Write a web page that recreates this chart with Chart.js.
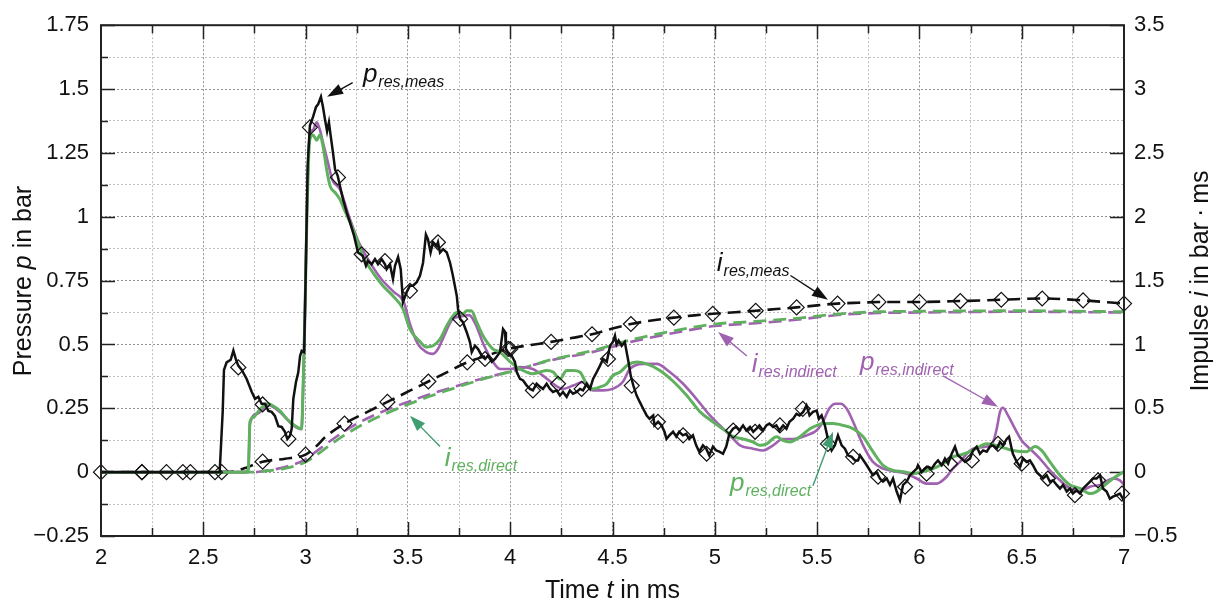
<!DOCTYPE html>
<html>
<head>
<meta charset="utf-8">
<script src="https://cdn.jsdelivr.net/npm/chart.js@4"></script>
<style>
  html, body { margin: 0; padding: 0; background: #fff; }
  #wrap { width: 1217px; height: 603px; position: relative; }
</style>
</head>
<body>
<div id="wrap"><canvas id="myChart"></canvas></div>
<script>
// measured pressure p_res,meas (bar)
const tMeas = [2.0, 2.58, 2.595, 2.601, 2.614, 2.634, 2.647, 2.66, 2.671, 2.688, 2.712, 2.737, 2.753, 2.769, 2.785, 2.802, 2.818, 2.834, 2.85, 2.867, 2.883, 2.899, 2.911, 2.924, 2.932, 2.94, 2.953, 2.964, 2.973, 2.981, 2.993, 3.0, 3.01, 3.021, 3.036, 3.051, 3.061, 3.075, 3.085, 3.095, 3.105, 3.114, 3.123, 3.134, 3.144, 3.157, 3.168, 3.183, 3.201, 3.217, 3.237, 3.256, 3.279, 3.295, 3.305, 3.323, 3.339, 3.354, 3.372, 3.388, 3.396, 3.412, 3.427, 3.437, 3.452, 3.465, 3.476, 3.494, 3.51, 3.525, 3.543, 3.559, 3.574, 3.588, 3.598, 3.611, 3.623, 3.641, 3.647, 3.657, 3.672, 3.69, 3.706, 3.72, 3.739, 3.745, 3.755, 3.769, 3.787, 3.803, 3.812, 3.828, 3.843, 3.861, 3.877, 3.891, 3.91, 3.926, 3.95, 3.965, 3.975, 3.979, 3.989, 4.007, 4.023, 4.032, 4.048, 4.063, 4.081, 4.097, 4.111, 4.129, 4.146, 4.16, 4.178, 4.194, 4.209, 4.227, 4.243, 4.258, 4.276, 4.292, 4.307, 4.325, 4.341, 4.356, 4.374, 4.39, 4.405, 4.423, 4.439, 4.454, 4.472, 4.488, 4.502, 4.512, 4.52, 4.53, 4.545, 4.56, 4.578, 4.589, 4.602, 4.618, 4.633, 4.65, 4.667, 4.681, 4.699, 4.705, 4.723, 4.74, 4.754, 4.764, 4.778, 4.796, 4.812, 4.826, 4.844, 4.86, 4.875, 4.893, 4.909, 4.924, 4.942, 4.958, 4.973, 4.991, 5.007, 5.022, 5.04, 5.056, 5.071, 5.089, 5.105, 5.12, 5.138, 5.154, 5.172, 5.188, 5.204, 5.218, 5.236, 5.252, 5.267, 5.285, 5.301, 5.316, 5.334, 5.35, 5.365, 5.383, 5.399, 5.414, 5.432, 5.448, 5.463, 5.48, 5.498, 5.509, 5.522, 5.538, 5.553, 5.571, 5.587, 5.602, 5.62, 5.636, 5.651, 5.669, 5.685, 5.7, 5.71, 5.74, 5.773, 5.791, 5.807, 5.822, 5.84, 5.856, 5.871, 5.889, 5.905, 5.92, 5.938, 5.954, 5.969, 5.987, 5.993, 6.011, 6.027, 6.042, 6.06, 6.076, 6.091, 6.109, 6.125, 6.14, 6.158, 6.174, 6.188, 6.207, 6.223, 6.247, 6.262, 6.28, 6.296, 6.311, 6.329, 6.345, 6.36, 6.378, 6.394, 6.408, 6.427, 6.438, 6.451, 6.457, 6.476, 6.492, 6.506, 6.524, 6.54, 6.555, 6.573, 6.589, 6.604, 6.622, 6.638, 6.653, 6.671, 6.687, 6.702, 6.72, 6.736, 6.75, 6.768, 6.785, 6.8, 6.818, 6.834, 6.848, 6.866, 6.883, 6.897, 6.915, 6.931, 6.946, 6.964, 6.98, 6.995, 7.0];
const pMeas = [0, 0, 0.24, 0.40, 0.43, 0.44, 0.476, 0.44, 0.417, 0.40, 0.365, 0.314, 0.287, 0.295, 0.268, 0.268, 0.24, 0.236, 0.22, 0.18, 0.177, 0.158, 0.13, 0.143, 0.17, 0.287, 0.353, 0.39, 0.455, 0.475, 0.47, 0.75, 1.2, 1.357, 1.39, 1.43, 1.44, 1.47, 1.43, 1.38, 1.335, 1.37, 1.315, 1.25, 1.185, 1.16, 1.12, 1.068, 1.017, 0.978, 0.925, 0.86, 0.847, 0.808, 0.827, 0.814, 0.834, 0.814, 0.834, 0.814, 0.795, 0.814, 0.756, 0.808, 0.842, 0.795, 0.666, 0.705, 0.73, 0.73, 0.744, 0.769, 0.82, 0.93, 0.912, 0.86, 0.90, 0.886, 0.90, 0.86, 0.873, 0.86, 0.82, 0.769, 0.69, 0.639, 0.60, 0.587, 0.549, 0.51, 0.47, 0.495, 0.482, 0.456, 0.443, 0.456, 0.432, 0.443, 0.47, 0.56, 0.549, 0.482, 0.47, 0.456, 0.432, 0.392, 0.365, 0.359, 0.339, 0.326, 0.32, 0.346, 0.334, 0.326, 0.346, 0.326, 0.314, 0.32, 0.30, 0.314, 0.295, 0.32, 0.307, 0.314, 0.326, 0.32, 0.346, 0.326, 0.365, 0.392, 0.417, 0.443, 0.432, 0.495, 0.51, 0.534, 0.5, 0.515, 0.495, 0.51, 0.432, 0.378, 0.339, 0.30, 0.275, 0.248, 0.222, 0.209, 0.222, 0.183, 0.197, 0.183, 0.158, 0.13, 0.144, 0.158, 0.139, 0.158, 0.144, 0.15, 0.13, 0.144, 0.105, 0.08, 0.105, 0.092, 0.066, 0.10, 0.085, 0.08, 0.072, 0.10, 0.15, 0.17, 0.177, 0.163, 0.183, 0.163, 0.177, 0.158, 0.17, 0.183, 0.163, 0.183, 0.19, 0.177, 0.183, 0.163, 0.183, 0.17, 0.197, 0.209, 0.228, 0.222, 0.236, 0.261, 0.222, 0.236, 0.241, 0.209, 0.222, 0.183, 0.13, 0.085, 0.105, 0.144, 0.105, 0.092, 0.066, 0.06, 0.046, 0.046, 0.066, 0.03, -0.012, 0.0, -0.025, -0.037, -0.025, -0.05, -0.025, -0.076, -0.11, -0.05, -0.037, -0.012, 0.0, 0.014, 0.027, 0.0, 0.014, 0.021, 0.014, 0.033, 0.046, 0.027, 0.053, 0.033, 0.072, 0.10, 0.066, 0.053, 0.04, 0.053, 0.085, 0.10, 0.072, 0.085, 0.08, 0.10, 0.105, 0.092, 0.118, 0.105, 0.13, 0.139, 0.092, 0.072, 0.04, 0.021, 0.053, 0.04, 0.046, 0.027, 0.0, -0.012, -0.025, -0.012, -0.037, -0.032, -0.05, -0.064, -0.05, -0.076, -0.064, -0.084, -0.071, -0.084, -0.064, -0.05, -0.037, -0.025, -0.025, -0.012, -0.064, -0.076, -0.104, -0.096, -0.09, -0.084, -0.104, -0.1];
// diamond markers on p_res,meas
const tMeasMark = [2.2, 2.32, 2.437, 2.557, 2.671, 2.79, 2.916, 3.021, 3.158, 3.274, 3.388, 3.51, 3.647, 3.755, 3.877, 4.0, 4.111, 4.234, 4.349, 4.478, 4.594, 4.722, 4.845, 4.96, 5.09, 5.197, 5.318, 5.43, 5.553, 5.676, 5.798, 5.93, 6.035, 6.15, 6.256, 6.384, 6.5, 6.628, 6.76, 6.873, 6.99];
const pMeasMark = [0, 0, 0, 0, 0.41, 0.265, 0.13, 1.35, 1.154, 0.853, 0.826, 0.71, 0.90, 0.60, 0.443, 0.482, 0.32, 0.346, 0.326, 0.443, 0.339, 0.197, 0.144, 0.072, 0.163, 0.158, 0.183, 0.248, 0.111, 0.06, -0.018, -0.057, -0.006, 0.033, 0.046, 0.111, 0.033, -0.025, -0.09, -0.032, -0.084];

// simulated pressure, direct method (bar)
const tDirect = [2.0, 2.70, 2.72, 2.728, 2.745, 2.767, 2.79, 2.818, 2.84, 2.875, 2.907, 2.948, 2.98, 2.989, 2.997, 3.005, 3.02, 3.036, 3.054, 3.07, 3.085, 3.103, 3.12, 3.144, 3.168, 3.183, 3.217, 3.25, 3.28, 3.33, 3.378, 3.427, 3.476, 3.51, 3.56, 3.59, 3.623, 3.657, 3.69, 3.72, 3.745, 3.77, 3.787, 3.81, 3.836, 3.867, 3.916, 3.95, 4.0, 4.048, 4.08, 4.11, 4.146, 4.178, 4.21, 4.243, 4.276, 4.307, 4.34, 4.374, 4.405, 4.44, 4.472, 4.502, 4.537, 4.575, 4.618, 4.667, 4.732, 4.8, 4.863, 4.928, 4.99, 5.058, 5.09, 5.138, 5.187, 5.22, 5.254, 5.302, 5.333, 5.367, 5.416, 5.465, 5.5, 5.53, 5.578, 5.627, 5.676, 5.725, 5.773, 5.822, 5.871, 5.92, 5.969, 6.017, 6.067, 6.115, 6.164, 6.213, 6.262, 6.329, 6.394, 6.457, 6.524, 6.565, 6.597, 6.638, 6.687, 6.736, 6.785, 6.834, 6.866, 6.897, 6.946, 7.0];
const pDirect = [0, 0, 0.01, 0.197, 0.215, 0.236, 0.256, 0.268, 0.26, 0.24, 0.209, 0.182, 0.17, 0.365, 0.627, 0.95, 1.30, 1.32, 1.30, 1.32, 1.277, 1.185, 1.12, 1.095, 1.068, 1.04, 0.978, 0.912, 0.847, 0.78, 0.73, 0.69, 0.639, 0.56, 0.51, 0.49, 0.495, 0.521, 0.573, 0.612, 0.627, 0.619, 0.632, 0.632, 0.588, 0.534, 0.482, 0.47, 0.432, 0.404, 0.392, 0.385, 0.392, 0.398, 0.392, 0.365, 0.398, 0.398, 0.392, 0.346, 0.326, 0.334, 0.346, 0.378, 0.392, 0.42, 0.431, 0.424, 0.398, 0.353, 0.30, 0.236, 0.197, 0.158, 0.139, 0.13, 0.118, 0.105, 0.111, 0.139, 0.124, 0.118, 0.139, 0.17, 0.183, 0.19, 0.19, 0.183, 0.17, 0.139, 0.08, 0.027, 0.007, 0.002, -0.006, 0.002, 0.014, 0.033, 0.06, 0.07, 0.085, 0.111, 0.10, 0.085, 0.08, 0.10, 0.085, 0.04, -0.012, -0.05, -0.064, -0.084, -0.076, -0.057, -0.025, 0.002];

// simulated pressure, indirect method (bar)
const tIndirect = [2.0, 2.70, 2.72, 2.728, 2.767, 2.818, 2.875, 2.948, 2.98, 2.989, 2.997, 3.005, 3.02, 3.036, 3.054, 3.07, 3.085, 3.11, 3.13, 3.168, 3.217, 3.26, 3.305, 3.37, 3.432, 3.48, 3.51, 3.55, 3.59, 3.623, 3.647, 3.67, 3.72, 3.76, 3.8, 3.83, 3.87, 3.916, 3.95, 4.0, 4.048, 4.11, 4.16, 4.21, 4.258, 4.307, 4.356, 4.405, 4.454, 4.5, 4.55, 4.585, 4.65, 4.716, 4.78, 4.845, 4.91, 4.976, 5.025, 5.074, 5.123, 5.187, 5.236, 5.285, 5.333, 5.382, 5.449, 5.5, 5.53, 5.56, 5.59, 5.615, 5.645, 5.676, 5.725, 5.773, 5.822, 5.889, 5.938, 5.987, 6.035, 6.084, 6.133, 6.164, 6.198, 6.23, 6.262, 6.33, 6.36, 6.378, 6.394, 6.408, 6.433, 6.467, 6.5, 6.54, 6.589, 6.638, 6.687, 6.736, 6.785, 6.834, 6.883, 6.946, 6.98, 7.0];
const pIndirect = [0, 0, 0.01, 0.19, 0.23, 0.262, 0.235, 0.178, 0.168, 0.37, 0.64, 0.98, 1.32, 1.34, 1.37, 1.34, 1.29, 1.21, 1.146, 1.107, 0.99, 0.90, 0.834, 0.756, 0.705, 0.666, 0.58, 0.50, 0.47, 0.463, 0.482, 0.521, 0.60, 0.61, 0.615, 0.58, 0.50, 0.432, 0.404, 0.404, 0.412, 0.404, 0.378, 0.346, 0.326, 0.339, 0.353, 0.32, 0.32, 0.326, 0.353, 0.404, 0.424, 0.424, 0.392, 0.346, 0.287, 0.222, 0.183, 0.144, 0.105, 0.092, 0.085, 0.105, 0.13, 0.13, 0.144, 0.165, 0.2, 0.25, 0.268, 0.268, 0.248, 0.197, 0.105, 0.04, 0.014, 0.002, -0.006, -0.025, -0.045, -0.045, -0.018, 0.014, 0.04, 0.07, 0.092, 0.10, 0.118, 0.17, 0.236, 0.252, 0.222, 0.17, 0.124, 0.092, 0.053, 0.007, -0.032, -0.064, -0.076, -0.057, -0.05, -0.025, -0.032, -0.05];

// impulse curves (bar·ms, right axis)
const tImpMeas = [2.0, 2.59, 2.65, 2.7, 2.79, 2.9, 3.0, 3.05, 3.1, 3.19, 3.3, 3.4, 3.5, 3.6, 3.7, 3.79, 3.9, 3.99, 4.1, 4.2, 4.3, 4.4, 4.5, 4.59, 4.7, 4.8, 4.9, 4.99, 5.1, 5.2, 5.3, 5.4, 5.5, 5.6, 5.7, 5.8, 5.9, 6.0, 6.2, 6.4, 6.6, 6.8, 7.0];
const iMeas = [0, 0, 0.005, 0.03, 0.082, 0.105, 0.137, 0.2, 0.28, 0.38, 0.47, 0.55, 0.63, 0.71, 0.79, 0.86, 0.92, 0.965, 0.995, 1.02, 1.05, 1.08, 1.125, 1.16, 1.19, 1.21, 1.228, 1.24, 1.252, 1.264, 1.277, 1.29, 1.306, 1.32, 1.327, 1.332, 1.333, 1.333, 1.34, 1.35, 1.36, 1.345, 1.32];
const tImpMark = [2.0, 2.2, 2.4, 2.59, 2.79, 3.0, 3.19, 3.4, 3.6, 3.79, 3.99, 4.2, 4.4, 4.59, 4.8, 4.99, 5.2, 5.4, 5.6, 5.8, 6.0, 6.2, 6.4, 6.6, 6.8, 7.0];
const iMeasMark = [0, 0, 0, 0, 0.082, 0.137, 0.38, 0.55, 0.71, 0.86, 0.965, 1.02, 1.08, 1.16, 1.21, 1.24, 1.264, 1.29, 1.32, 1.333, 1.333, 1.34, 1.35, 1.36, 1.345, 1.32];
const tImpSim = [2.0, 2.75, 2.8, 2.9, 3.0, 3.05, 3.1, 3.2, 3.3, 3.4, 3.5, 3.6, 3.7, 3.8, 3.9, 4.0, 4.2, 4.4, 4.6, 4.8, 5.0, 5.2, 5.4, 5.6, 5.8, 6.0, 6.5, 7.0];
const iIndirect = [0, 0, 0.01, 0.04, 0.1, 0.16, 0.22, 0.33, 0.42, 0.49, 0.55, 0.606, 0.656, 0.704, 0.748, 0.788, 0.876, 0.94, 1.024, 1.09, 1.144, 1.166, 1.194, 1.23, 1.246, 1.25, 1.256, 1.25];
const iDirect = [0, 0, 0.008, 0.03, 0.08, 0.13, 0.19, 0.30, 0.39, 0.464, 0.53, 0.59, 0.644, 0.696, 0.744, 0.786, 0.88, 0.95, 1.04, 1.106, 1.16, 1.18, 1.205, 1.238, 1.256, 1.26, 1.264, 1.256];

const GREEN = '#5fb05f';
const PURPLE = '#a062b0';
const FONT = '"Liberation Sans", Arial, Helvetica, sans-serif';

const pts = (ts, vs) => ts.map((t, i) => ({ x: t, y: vs[i] }));
const isMult = (v, s) => Math.abs(v / s - Math.round(v / s)) < 1e-6;
const fmt = v => (v < 0 ? '\u2212' : '') + String(+Math.abs(v).toFixed(3));

// text with italic pieces, centred on x
function richText(ctx, parts, x, y, size) {
    let w = 0;
    parts.forEach(p => {
        ctx.font = (p[1] ? 'italic ' : '') + size + 'px ' + FONT;
        w += ctx.measureText(p[0]).width;
    });
    let cx = x - w / 2;
    ctx.textAlign = 'left';
    parts.forEach(p => {
        ctx.font = (p[1] ? 'italic ' : '') + size + 'px ' + FONT;
        ctx.fillText(p[0], cx, y);
        cx += ctx.measureText(p[0]).width;
    });
}

function subLabel(ctx, x, y, main, sub, color) {
    ctx.fillStyle = color;
    ctx.textAlign = 'left';
    ctx.textBaseline = 'alphabetic';
    ctx.font = 'italic 26px ' + FONT;
    ctx.fillText(main, x, y);
    const w = ctx.measureText(main).width;
    ctx.font = 'italic 16px ' + FONT;
    ctx.fillText(sub, x + w + 1, y + 5);
}

function arrow(ctx, x1, y1, x2, y2, color) {
    const a = Math.atan2(y2 - y1, x2 - x1);
    const L = 16, W = 5.5;
    ctx.strokeStyle = color;
    ctx.fillStyle = color;
    ctx.lineWidth = 1.4;
    ctx.beginPath();
    ctx.moveTo(x1, y1);
    ctx.lineTo(x2 - Math.cos(a) * L * 0.8, y2 - Math.sin(a) * L * 0.8);
    ctx.stroke();
    ctx.beginPath();
    ctx.moveTo(x2, y2);
    ctx.lineTo(x2 - Math.cos(a) * L - Math.sin(a) * W, y2 - Math.sin(a) * L + Math.cos(a) * W);
    ctx.lineTo(x2 - Math.cos(a) * L + Math.sin(a) * W, y2 - Math.sin(a) * L - Math.cos(a) * W);
    ctx.closePath();
    ctx.fill();
}

// labels: [main, sub, color, textT, textP, tailT, tailP, tipT, tipP]
const notes = [
    ['p', 'res,meas', '#111', 3.28, 1.529, 3.23, 1.525, 3.105, 1.47],
    ['i', 'res,meas', '#111', 5.01, 0.786, 5.37, 0.77, 5.553, 0.675],
    ['i', 'res,indirect', PURPLE, 5.18, 0.393, 5.157, 0.455, 5.016, 0.549],
    ['p', 'res,indirect', PURPLE, 5.71, 0.40, 6.115, 0.377, 6.384, 0.256],
    ['i', 'res,direct', GREEN, 3.68, 0.025, 3.657, 0.1, 3.51, 0.221],
    ['p', 'res,direct', GREEN, 5.074, -0.072, 5.48, -0.053, 5.578, 0.158]
];
const arrowColors = ['#111', '#111', PURPLE, PURPLE, '#3f9d70', '#3f9d70'];

const frame = {
    id: 'frame',
    beforeDatasetsDraw(chart) {
        const { ctx, chartArea: a, scales } = chart;
        ctx.save();
        ctx.strokeStyle = '#222';
        ctx.lineWidth = 1.5;
        ctx.beginPath();
        scales.x.ticks.forEach(t => {
            if (t.value <= 2 || t.value >= 7) return;
            const px = Math.round(scales.x.getPixelForValue(t.value)) + 0.5;
            const len = isMult(t.value, 0.5) ? 14 : 8;
            ctx.moveTo(px, a.bottom); ctx.lineTo(px, a.bottom - len);
            ctx.moveTo(px, a.top); ctx.lineTo(px, a.top + len);
        });
        scales.y.ticks.forEach(t => {
            const py = Math.round(scales.y.getPixelForValue(t.value)) + 0.5;
            const len = isMult(t.value, 0.25) ? 14 : 7;
            ctx.moveTo(a.left, py); ctx.lineTo(a.left + len, py);
        });
        scales.y2.ticks.forEach(t => {
            if (!isMult(t.value, 0.5)) return;
            const py = Math.round(scales.y2.getPixelForValue(t.value)) + 0.5;
            ctx.moveTo(a.right, py); ctx.lineTo(a.right - 14, py);
        });
        ctx.stroke();
        ctx.restore();
    },
    afterDraw(chart) {
        const { ctx, chartArea: a, scales } = chart;
        ctx.save();
        ctx.strokeStyle = '#222';
        ctx.lineWidth = 2;
        ctx.strokeRect(a.left, a.top, a.right - a.left, a.bottom - a.top);

        notes.forEach((n, k) => {
            const X = v => scales.x.getPixelForValue(v);
            const Y = v => scales.y.getPixelForValue(v);
            subLabel(ctx, X(n[3]), Y(n[4]), n[0], n[1], n[2]);
            arrow(ctx, X(n[5]), Y(n[6]), X(n[7]), Y(n[8]), arrowColors[k]);
        });

        // axis titles
        ctx.fillStyle = '#111';
        ctx.textBaseline = 'middle';
        richText(ctx, [['Time ', false], ['t', true], [' in ms', false]], (a.left + a.right) / 2, 591, 25);
        ctx.save();
        ctx.translate(24, 281);
        ctx.rotate(-Math.PI / 2);
        richText(ctx, [['Pressure ', false], ['p', true], [' in bar', false]], 0, 0, 25);
        ctx.restore();
        ctx.save();
        ctx.translate(1201, 281);
        ctx.rotate(-Math.PI / 2);
        richText(ctx, [['Impulse ', false], ['i', true], [' in bar\u2009\u00b7\u2009ms', false]], 0, 0, 25);
        ctx.restore();
        ctx.restore();
    }
};

const gridColor = major => ctx => (ctx.tick && major(ctx.tick.value)) ? '#939393' : '#c0c0c0';
const tickFont = { family: FONT, size: 22 };

const config = {
    type: 'line',
    data: {
        datasets: [
            {
                label: 'p_res,meas markers',
                data: pts(tMeasMark, pMeasMark),
                showLine: false,
                pointStyle: 'rectRot',
                pointRadius: 7.5,
                pointBorderWidth: 1.2,
                borderColor: '#111',
                backgroundColor: 'rgba(255,255,255,0)',
                clip: false,
                order: 0
            },
            {
                label: 'p_res,meas',
                data: pts(tMeas, pMeas),
                borderColor: '#111',
                borderWidth: 2.5,
                pointRadius: 0,
                tension: 0,
                order: 1
            },
            {
                label: 'p_res,direct',
                data: pts(tDirect, pDirect),
                borderColor: GREEN,
                borderWidth: 3,
                pointRadius: 0,
                cubicInterpolationMode: 'monotone',
                order: 2
            },
            {
                label: 'p_res,indirect',
                data: pts(tIndirect, pIndirect),
                borderColor: PURPLE,
                borderWidth: 2.6,
                pointRadius: 0,
                cubicInterpolationMode: 'monotone',
                order: 3
            },
            {
                label: 'i_res,meas markers',
                data: pts(tImpMark, iMeasMark),
                yAxisID: 'y2',
                showLine: false,
                pointStyle: 'rectRot',
                pointRadius: 7.5,
                pointBorderWidth: 1.2,
                borderColor: '#111',
                backgroundColor: 'rgba(255,255,255,0)',
                clip: false,
                order: 4
            },
            {
                label: 'i_res,meas',
                data: pts(tImpMeas, iMeas),
                yAxisID: 'y2',
                borderColor: '#111',
                borderWidth: 2.6,
                borderDash: [13, 7],
                pointRadius: 0,
                cubicInterpolationMode: 'monotone',
                order: 5
            },
            {
                label: 'i_res,direct',
                data: pts(tImpSim, iDirect),
                yAxisID: 'y2',
                borderColor: GREEN,
                borderWidth: 2.8,
                borderDash: [13, 7],
                pointRadius: 0,
                cubicInterpolationMode: 'monotone',
                order: 6
            },
            {
                label: 'i_res,indirect',
                data: pts(tImpSim, iIndirect),
                yAxisID: 'y2',
                borderColor: PURPLE,
                borderWidth: 2.6,
                borderDash: [13, 7],
                borderDashOffset: 5,
                pointRadius: 0,
                cubicInterpolationMode: 'monotone',
                order: 7
            }
        ]
    },
    options: {
        responsive: true,
        maintainAspectRatio: false,
        animation: false,
        devicePixelRatio: 1,
        layout: { padding: { top: 24, left: 0, right: 0, bottom: 0 } },
        plugins: {
            legend: { display: false },
            tooltip: { enabled: false }
        },
        scales: {
            x: {
                type: 'linear',
                min: 2,
                max: 7,
                ticks: {
                    stepSize: 0.25,
                    autoSkip: false,
                    maxRotation: 0,
                    padding: 9,
                    color: '#111',
                    font: tickFont,
                    callback: v => isMult(v, 0.5) ? fmt(v) : ''
                },
                grid: { drawTicks: false, color: gridColor(v => isMult(v, 0.5)), lineWidth: 1 },
                border: { display: false, dash: [2, 2] },
                afterFit: s => { s.height = 67; }
            },
            y: {
                type: 'linear',
                position: 'left',
                min: -0.25,
                max: 1.75,
                ticks: {
                    stepSize: 0.125,
                    autoSkip: false,
                    padding: 12,
                    color: '#111',
                    font: tickFont,
                    callback: v => isMult(v, 0.25) ? fmt(v) : ''
                },
                grid: { drawTicks: false, color: gridColor(v => isMult(v, 0.25)), lineWidth: 1 },
                border: { display: false, dash: [2, 2] },
                afterFit: s => { s.width = 101; }
            },
            y2: {
                type: 'linear',
                position: 'right',
                min: -0.5,
                max: 3.5,
                ticks: {
                    stepSize: 0.25,
                    autoSkip: false,
                    padding: 10,
                    color: '#111',
                    font: tickFont,
                    callback: v => isMult(v, 0.5) ? fmt(v) : ''
                },
                grid: { drawOnChartArea: false, drawTicks: false },
                border: { display: false },
                afterFit: s => { s.width = 93; }
            }
        }
    },
    plugins: [frame]
};

const ctx = document.getElementById('myChart');
const myChart = new Chart(ctx, config);
</script>
</body>
</html>
